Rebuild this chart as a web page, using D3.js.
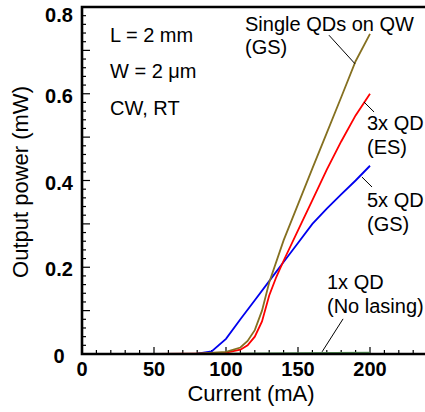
<!DOCTYPE html>
<html>
<head>
<meta charset="utf-8">
<script src="https://cdn.jsdelivr.net/npm/d3@7"></script>
<style>
  body { margin: 0; background: #fff; }
  text { font-family: "Liberation Sans", Arial, sans-serif; }
</style>
</head>
<body>
<div id="chart"></div>
<script>
// Light-current data (current in mA, power in mW)
const singleQD = [[50,0],[80,0.001],[100,0.005],[110,0.015],[115,0.03],[120,0.055],[125,0.1],[130,0.165],[140,0.262],[150,0.345],[160,0.428],[170,0.51],[180,0.592],[190,0.675],[200,0.738]];
const qd3ES = [[50,0],[80,0.001],[100,0.003],[110,0.01],[115,0.02],[120,0.04],[125,0.075],[130,0.135],[135,0.178],[140,0.215],[150,0.285],[160,0.355],[170,0.425],[180,0.49],[190,0.55],[200,0.6]];
const qd5GS = [[50,0],[70,0],[80,0.001],[90,0.006],[100,0.035],[110,0.08],[120,0.124],[130,0.168],[140,0.212],[150,0.256],[160,0.3],[170,0.335],[180,0.368],[190,0.4],[200,0.434]];
const qd1 = [[50,0],[100,0.001],[150,0.002],[200,0.003]];

const series = [
  {name: "single", data: singleQD, color: "#857020"},
  {name: "3x", data: qd3ES, color: "#ff0000"},
  {name: "5x", data: qd5GS, color: "#0000ee"},
  {name: "1x", data: qd1, color: "#5a9a5a"}
];

// leader lines, in data units
const leaders = [
  [[171.5,0.735],[189.6,0.669]],
  [[195.8,0.581],[202.8,0.558]],
  [[194.4,0.408],[201.4,0.385]],
  [[181.3,0.081],[166.7,0.005]]
];

const xTicks = [0, 50, 100, 150, 200];
const yTicks = [0, 0.2, 0.4, 0.6, 0.8];

const W = 425, H = 412;
const svg = d3.select("#chart").append("svg")
    .attr("width", W)
    .attr("height", H);

const x = d3.scaleLinear().domain([0, 240]).range([82, 82 + 1.44 * 240]);
const y = d3.scaleLinear().domain([0, 0.8]).range([354, 7]);

// minor / major ticks pointing inward
const xMinor = d3.range(10, 240, 10);
svg.append("g").selectAll("line")
    .data(xMinor)
    .enter().append("line")
    .attr("x1", d => x(d)).attr("x2", d => x(d))
    .attr("y1", y(0))
    .attr("y2", d => y(0) - (d % 50 === 0 ? 7 : 4))
    .attr("stroke", "#000").attr("stroke-width", 1.2);

const yMinor = d3.range(1, 40).map(i => i * 0.02);
svg.append("g").selectAll("line")
    .data(yMinor)
    .enter().append("line")
    .attr("y1", d => y(d)).attr("y2", d => y(d))
    .attr("x1", x(0))
    .attr("x2", (d, i) => x(0) + ((i + 1) % 5 === 0 ? 8 : 4))
    .attr("stroke", "#000").attr("stroke-width", 1.2);

// tick labels
svg.append("g").selectAll("text")
    .data(xTicks)
    .enter().append("text")
    .attr("x", d => x(d))
    .attr("y", 376)
    .attr("text-anchor", "middle")
    .style("font-size", "20px")
    .style("font-weight", "bold")
    .text(d => d);

svg.append("g").selectAll("text")
    .data(yTicks)
    .enter().append("text")
    .attr("x", 59)
    .attr("y", d => Math.max(y(d) + 2, 15))
    .attr("dy", "0.36em")
    .attr("text-anchor", "middle")
    .style("font-size", "20px")
    .style("font-weight", "bold")
    .text(d => d === 0 ? "0" : d.toFixed(1));

// curves
const line = d3.line()
    .x(d => x(d[0]))
    .y(d => y(d[1]));

svg.append("g").selectAll("path")
    .data(series.slice().reverse())
    .enter().append("path")
    .attr("d", d => line(d.data))
    .attr("fill", "none")
    .attr("stroke", d => d.color)
    .attr("stroke-width", 1.8);

svg.append("g").selectAll("path")
    .data(leaders)
    .enter().append("path")
    .attr("d", d => line(d))
    .attr("fill", "none")
    .attr("stroke", "#000")
    .attr("stroke-width", 1);

// frame: left, top, bottom
svg.append("path")
    .attr("d", `M${W},${y(0.8)}H${x(0)}V${y(0)}H${W}`)
    .attr("fill", "none")
    .attr("stroke", "#000")
    .attr("stroke-width", 2.6);

// annotations
const notes = [
  {t: "L = 2 mm", x: 110, y: 42},
  {t: "W = 2 μm", x: 110, y: 78},
  {t: "CW, RT", x: 110, y: 115},
  {t: "Single QDs on QW", x: 245, y: 31},
  {t: "(GS)", x: 245, y: 54},
  {t: "3x QD", x: 367, y: 130},
  {t: "(ES)", x: 367, y: 154},
  {t: "5x QD", x: 367, y: 207},
  {t: "(GS)", x: 367, y: 231},
  {t: "1x QD", x: 327, y: 289},
  {t: "(No lasing)", x: 327, y: 313}
];
svg.append("g").selectAll("text")
    .data(notes)
    .enter().append("text")
    .attr("x", d => d.x)
    .attr("y", d => d.y)
    .style("font-size", "20px")
    .text(d => d.t);

// axis titles
svg.append("text")
    .attr("x", 251)
    .attr("y", 401)
    .attr("text-anchor", "middle")
    .style("font-size", "22px")
    .text("Current (mA)");

svg.append("text")
    .attr("transform", "rotate(-90)")
    .attr("x", -182)
    .attr("y", 28)
    .attr("text-anchor", "middle")
    .style("font-size", "22px")
    .text("Output power (mW)");
</script>
</body>
</html>
